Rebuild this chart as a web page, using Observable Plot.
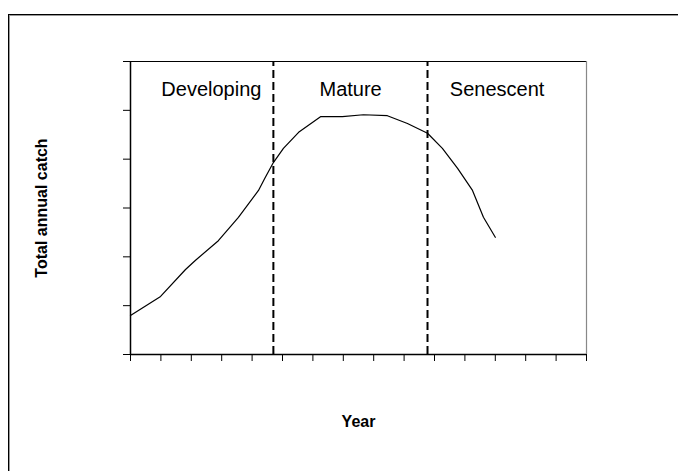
<!DOCTYPE html>
<html>
<head>
<meta charset="utf-8">
<script src="https://cdn.jsdelivr.net/npm/d3@7"></script>
<script src="https://cdn.jsdelivr.net/npm/@observablehq/plot@0.6"></script>
<style>
  html, body { margin: 0; padding: 0; background: #fff; }
  #wrap { position: relative; width: 678px; height: 471px; overflow: hidden; font-family: "Liberation Sans", Arial, sans-serif; }
  #frame { position: absolute; left: 8px; top: 14px; width: 700px; height: 500px; border-top: 1px solid #000; border-left: 1px solid #000; box-shadow: inset 1px 1px 0 #999; }
  #chart { position: absolute; left: 0; top: 0; }
</style>
</head>
<body>
<div id="wrap"><div id="frame"></div><div id="chart"></div></div>
<script>
// Catch curve (x in tick units, y in tick units)
const years = [0, 0.99, 1.81, 2.14, 2.89, 3.55, 4.21, 4.41, 4.70, 5.03, 5.53, 6.25, 6.97, 7.66, 8.45, 9.11, 9.77, 10.26, 10.76, 11.25, 11.61, 12.0];
const catchValues = [0.80, 1.19, 1.74, 1.93, 2.33, 2.81, 3.36, 3.60, 3.93, 4.22, 4.55, 4.87, 4.87, 4.91, 4.89, 4.73, 4.53, 4.22, 3.81, 3.36, 2.81, 2.40];
const phaseBoundaries = [4.7, 9.77];
const phaseLabels = ["Developing", "Mature", "Senescent"];
const phaseLabelX = [2.66, 7.24, 12.06];
const phaseLabelY = [5.42, 5.42, 5.42];
const xTicks = d3.range(0, 16);
const yTicks = d3.range(0, 7);

const series = years.map((x, i) => ({x, y: catchValues[i]}));
const labels = phaseLabels.map((t, i) => ({t, x: phaseLabelX[i], y: phaseLabelY[i]}));

const chart = Plot.plot({
  width: 678,
  height: 471,
  marginLeft: 130,
  marginRight: 92,
  marginTop: 61,
  marginBottom: 117,
  style: {fontFamily: "'Liberation Sans', Arial, sans-serif", background: "transparent", overflow: "visible"},
  x: {domain: [0, 15]},
  y: {domain: [0, 6]},
  marks: [
    Plot.axisX({ticks: xTicks, tickFormat: () => "", tickSize: 7, label: null, stroke: "#000"}),
    Plot.axisY({ticks: yTicks, tickFormat: () => "", tickSize: 7, label: null, stroke: "#000"}),
    Plot.ruleY([6], {stroke: "#000", strokeWidth: 1.2}),
    Plot.ruleX([15], {stroke: "#888", strokeWidth: 1.2}),
    Plot.ruleX(phaseBoundaries, {y1: 0, y2: 6, stroke: "#000", strokeWidth: 2, strokeDasharray: "8,4"}),
    Plot.line(series, {x: "x", y: "y", stroke: "#000", strokeWidth: 1.2, curve: "linear"}),
    Plot.ruleX([0], {stroke: "#000", strokeWidth: 1.5}),
    Plot.ruleY([0], {stroke: "#000", strokeWidth: 1.5}),
    Plot.text(labels, {x: "x", y: "y", text: "t", fontSize: 20, fill: "#000", textAnchor: "middle", lineAnchor: "middle"}),
    Plot.text(["Year"], {frameAnchor: "bottom", dy: 67, fontSize: 16, fontWeight: "bold", fill: "#000", textAnchor: "middle", lineAnchor: "middle"}),
    Plot.text(["Total annual catch"], {frameAnchor: "left", dx: -89, rotate: -90, fontSize: 16, fontWeight: "bold", fill: "#000", textAnchor: "middle", lineAnchor: "middle"})
  ]
});
document.getElementById("chart").appendChild(chart);
</script>
</body>
</html>
